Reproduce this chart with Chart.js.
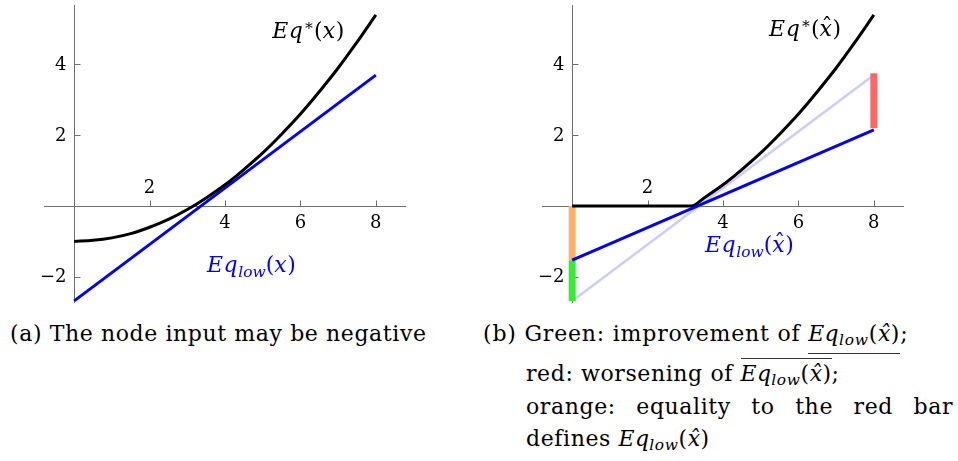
<!DOCTYPE html>
<html>
<head>
<meta charset="utf-8">
<script src="https://cdn.jsdelivr.net/npm/chart.js@4"></script>
<style>
  html, body { margin: 0; padding: 0; background: #fff; }
  body { width: 958px; height: 461px; position: relative; overflow: hidden;
         font-family: "DejaVu Serif", serif; color: #000; }
  canvas { position: absolute; top: 0; }
  .cap { position: absolute; font-size: 22px; line-height: 26px; letter-spacing: 0.6px; white-space: nowrap; }
  .cap i { font-style: italic; letter-spacing: 0.3px; }
  .cap sub { font-size: 70%; font-style: italic; vertical-align: -0.25em; line-height: 0; }
  .ul { display: inline-block; line-height: 22px; padding-bottom: 8px; border-bottom: 1px solid #333; }
  .ol { display: inline-block; line-height: 22px; padding-top: 4px; border-top: 1px solid #333; }
</style>
</head>
<body>
<canvas id="plotA" width="420" height="310" style="left:0"></canvas>
<canvas id="plotB" width="478" height="310" style="left:480px"></canvas>

<div class="cap" style="left:10px; top:321px">(a) The node input may be negative</div>
<div class="cap" style="left:483px; top:321px; letter-spacing:0.8px">(b) Green: improvement of <span class="ul"><i>Eq</i><sub>low</sub>(<i>x&#770;</i>)</span>;</div>
<div class="cap" style="left:526px; top:358px">red: worsening of <span class="ol"><i>Eq</i><sub>low</sub>(<i>x&#770;</i>)</span>;</div>
<div class="cap" style="left:526px; top:393.5px; width:427px; text-align:justify; text-align-last:justify">orange: equality to the red bar</div>
<div class="cap" style="left:526px; top:426px">defines <i>Eq</i><sub>low</sub>(<i>x&#770;</i>)</div>

<script>
// sample points of Eq*(x)
const curveX = [0, 0.5, 1, 1.5, 2, 2.5, 3, 3.5, 4, 4.5, 5, 5.5, 6, 6.5, 7, 7.5, 8];
const eqStar = [-1.0, -0.97, -0.9, -0.78, -0.6, -0.38, -0.1, 0.23, 0.6, 1.03, 1.5, 2.03, 2.6, 3.23, 3.9, 4.63, 5.4];

// Eq*(x^): clipped at zero up to the root
const hatX = [0, 3.16, 3.5, 4, 4.5, 5, 5.5, 6, 6.5, 7, 7.5, 8];
const eqStarHat = [0, 0, 0.23, 0.6, 1.03, 1.5, 2.03, 2.6, 3.23, 3.9, 4.63, 5.4];

// linear lower bounds, endpoints at x = 0 and x = 8
const lineX = [0, 8];
const eqLow = [-2.68, 3.7];
const eqLowHat = [-1.53, 2.15];

// vertical bars: [x, from, to]
const greenBar = [0, -1.53, -2.69];
const orangeBar = [0, 0, -1.53];
const redBar = [8, 2.2, 3.75];

const xTicks = [2, 4, 6, 8];
const yTicks = [-2, 2, 4];

const pts = (xs, ys) => xs.map((x, i) => ({ x, y: ys[i] }));
const bar = b => [{ x: b[0], y: b[1] }, { x: b[0], y: b[2] }];

const FONT = '"DejaVu Serif", serif';

// axes crossing at the origin, ticks pointing inwards
const middleAxes = {
  id: 'middleAxes',
  beforeDatasetsDraw(chart) {
    const { ctx, chartArea: a, scales: { x, y } } = chart;
    const x0 = Math.round(x.getPixelForValue(0)) + 0.5;
    const y0 = Math.round(y.getPixelForValue(0)) + 0.5;
    ctx.save();
    ctx.strokeStyle = '#6e6e6e';
    ctx.lineWidth = 1;
    ctx.beginPath();
    ctx.moveTo(a.left, y0); ctx.lineTo(a.right, y0);
    ctx.moveTo(x0, a.top); ctx.lineTo(x0, a.bottom);
    xTicks.forEach(v => {
      const px = Math.round(x.getPixelForValue(v)) + 0.5;
      ctx.moveTo(px, y0); ctx.lineTo(px, y0 - 6);
    });
    yTicks.forEach(v => {
      const py = Math.round(y.getPixelForValue(v)) + 0.5;
      ctx.moveTo(x0, py); ctx.lineTo(x0 + 6, py);
    });
    ctx.stroke();

    ctx.fillStyle = '#000';
    ctx.font = '18px ' + FONT;
    ctx.textAlign = 'center';
    ctx.textBaseline = 'middle';
    xTicks.forEach(v => {
      const px = x.getPixelForValue(v);
      // the "2" sits above the axis, the others below
      ctx.fillText(String(v), px, v === 2 ? y0 - 18 : y0 + 17);
    });
    ctx.textAlign = 'right';
    yTicks.forEach(v => {
      const label = v < 0 ? '\u2212' + (-v) : String(v);
      ctx.fillText(label, x0 - 8, y.getPixelForValue(v) + 1);
    });
    ctx.restore();
  }
};

// draw "Eq*(x)" style labels as runs of italic / upright / sub / sup text
function drawMath(ctx, runs, px, py, size, color) {
  ctx.save();
  ctx.fillStyle = color;
  ctx.textBaseline = 'alphabetic';
  ctx.textAlign = 'left';
  let cx = px;
  runs.forEach(([t, kind]) => {
    let f = size, dy = 0, style = '';
    if (kind === 'i' || kind === 'hat') style = 'italic ';
    if (kind === 'sub') { f = size * 0.7; dy = size * 0.22; style = 'italic '; }
    if (kind === 'sup') { f = size * 0.7; dy = -size * 0.38; }
    ctx.font = style + f.toFixed(1) + 'px ' + FONT;
    ctx.fillText(t, cx, py + dy);
    const w = ctx.measureText(t).width;
    if (kind === 'hat') {
      ctx.font = f.toFixed(1) + 'px ' + FONT;
      ctx.textAlign = 'center';
      ctx.fillText('\u02C6', cx + w * 0.6, py - size * 0.1);
      ctx.textAlign = 'left';
    }
    cx += w + (kind === 'i' || kind === 'hat' ? size * 0.03 : 0);
  });
  ctx.restore();
}

const mathLabels = {
  id: 'mathLabels',
  afterDatasetsDraw(chart, args, opts) {
    const { ctx, scales: { x, y } } = chart;
    (opts.items || []).forEach(it => {
      drawMath(ctx, it.runs, x.getPixelForValue(it.at[0]), y.getPixelForValue(it.at[1]), 22, it.color);
    });
  }
};

function lineSet(data, color, width, smooth) {
  return {
    data, borderColor: color, borderWidth: width, pointRadius: 0,
    showLine: true, fill: false, borderCapStyle: 'butt',
    cubicInterpolationMode: smooth ? 'monotone' : 'default'
  };
}

function makeChart(id, padding, datasets, labels) {
  return new Chart(document.getElementById(id), {
    type: 'scatter',
    data: { datasets },
    options: {
      responsive: false,
      animation: false,
      devicePixelRatio: 1,
      layout: { padding },
      scales: {
        x: { type: 'linear', min: -0.8, max: 8.8, display: false },
        y: { type: 'linear', min: -2.74, max: 5.68, display: false }
      },
      plugins: {
        legend: { display: false },
        tooltip: { enabled: false },
        mathLabels: { items: labels }
      }
    },
    plugins: [middleAxes, mathLabels]
  });
}

const star = xv => [['E', 'i'], ['q', 'i'], ['\u2217', 'sup'], ['(', ''], xv, [')', '']];
const low = xv => [['E', 'i'], ['q', 'i'], ['low', 'sub'], ['(', ''], xv, [')', '']];

function drawAll() {
  makeChart('plotA', { left: 44, top: 5, right: 14, bottom: 7 }, [
    lineSet(pts(curveX, eqStar), '#000', 3, true),
    lineSet(pts(lineX, eqLow), '#0000ff', 3, false)
  ], [
    { runs: star(['x', 'i']), at: [5.25, 4.75], color: '#000' },
    { runs: low(['x', 'i']), at: [3.52, -1.86], color: '#0000ff' }
  ]);

  makeChart('plotB', { left: 62, top: 5, right: 54, bottom: 7 }, [
    lineSet(pts(lineX, eqLowHat), '#0000ff', 3, false),
    lineSet(pts(hatX, eqStarHat), '#000', 3, true),
    lineSet(bar(redBar), 'rgb(255,102,102)', 7, false),
    lineSet(bar(orangeBar), 'rgb(255,178,102)', 7, false),
    lineSet(bar(greenBar), 'rgb(51,238,51)', 7, false),
    lineSet(pts(lineX, eqLow), 'rgb(204,204,255)', 2.5, false)
  ], [
    { runs: star(['x', 'hat']), at: [5.22, 4.8], color: '#000' },
    { runs: low(['x', 'hat']), at: [3.52, -1.3], color: '#0000ff' }
  ]);
}

Promise.all([
  document.fonts.load('18px "DejaVu Serif"'),
  document.fonts.load('italic 22px "DejaVu Serif"')
]).then(drawAll, drawAll);
</script>
</body>
</html>
